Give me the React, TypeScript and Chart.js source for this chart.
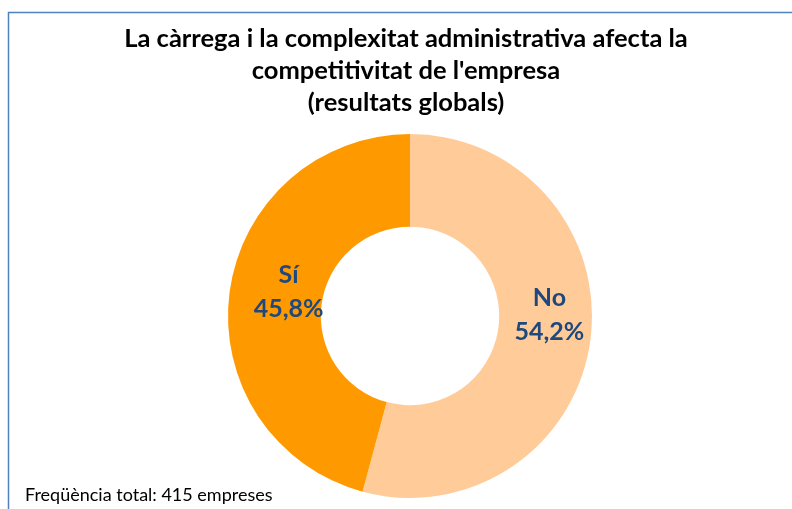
import React, { useEffect, useRef } from "react";
import { Chart, registerables } from "chart.js";

Chart.register(...registerables);

const categories = ["No", "Sí"];
const values = [54.2, 45.8];
const valueLabels = ["54,2%", "45,8%"];
const colors = ["#FFCC99", "#FF9900"];
const titleLines = [
  "La càrrega i la complexitat administrativa afecta la",
  "competitivitat de l'empresa",
  "(resultats globals)",
];
const footerText = "Freqüència total: 415 empreses";
// label nudges relative to the slice mid-point (px)
const labelNudge = [
  { dx: 5, dy: -19 },
  { dx: 13, dy: -6 },
];

const decorPlugin = {
  id: "decor",
  beforeDraw(chart: any) {
    const ctx = chart.ctx;
    ctx.save();
    ctx.fillStyle = "#ffffff";
    ctx.fillRect(0, 0, chart.width, chart.height);
    ctx.strokeStyle = "#4F81BD";
    ctx.lineWidth = 1.5;
    ctx.strokeRect(8.5, 12.5, chart.width + 20, chart.height + 20);
    ctx.restore();
  },
  afterDraw(chart: any) {
    const ctx = chart.ctx;
    ctx.save();
    // title
    ctx.fillStyle = "#000000";
    ctx.textAlign = "center";
    ctx.textBaseline = "middle";
    ctx.font = "bold 25.5px Lato";
    const cxTitle = 406;
    titleLines.forEach((t, i) => {
      ctx.fillText(t, cxTitle, 39 + i * 32);
    });
    // footer
    ctx.textAlign = "left";
    ctx.font = "18px Lato";
    ctx.fillStyle = "#000000";
    ctx.fillText(footerText, 25, 495);
    // slice labels
    const meta = chart.getDatasetMeta(0);
    ctx.fillStyle = "#1F497D";
    ctx.textAlign = "center";
    ctx.font = "bold 25px Lato";
    meta.data.forEach((arc: any, i: number) => {
      const mid = (arc.startAngle + arc.endAngle) / 2;
      const r = (arc.innerRadius + arc.outerRadius) / 2;
      const x = arc.x + Math.cos(mid) * r + labelNudge[i].dx;
      const y = arc.y + Math.sin(mid) * r + labelNudge[i].dy;
      ctx.fillText(categories[i], x, y - 17);
      ctx.fillText(valueLabels[i], x, y + 17);
    });
    ctx.restore();
  },
};

export default function App() {
  const ref = useRef<HTMLCanvasElement | null>(null);
  useEffect(() => {
    document.body.style.margin = "0";
    const chart = new Chart(ref.current!, {
      type: "doughnut",
      data: {
        labels: categories,
        datasets: [
          {
            data: values,
            backgroundColor: colors,
            borderWidth: 0,
          },
        ],
      },
      options: {
        animation: false,
        responsive: false,
        cutout: "49%",
        layout: { padding: { left: 228, right: 200, top: 134, bottom: 11 } },
        plugins: {
          legend: { display: false },
          tooltip: { enabled: false },
          title: { display: false },
        },
      },
      plugins: [decorPlugin],
    });
    return () => chart.destroy();
  }, []);
  return (
    <div style={{ position: "absolute", left: 0, top: 0, width: 792, height: 509 }}>
      <canvas ref={ref} width={792} height={509} />
    </div>
  );
}
